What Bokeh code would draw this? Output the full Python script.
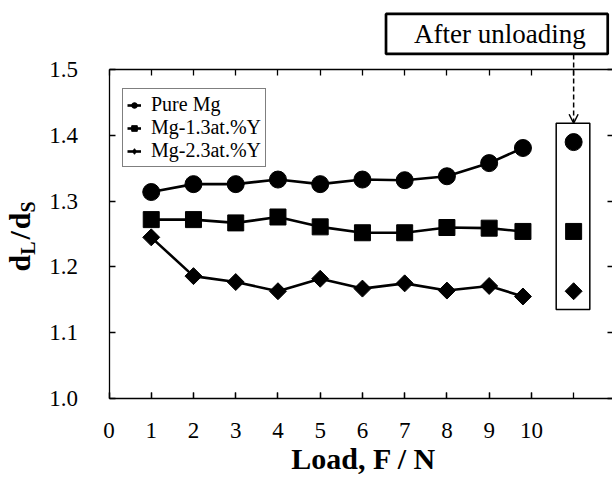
import math
from bokeh.plotting import figure
from bokeh.models import (Label, Arrow, OpenHead, Legend, LegendItem, LinearAxis,
                          FixedTicker, NumeralTickFormatter, Range1d)
from bokeh.embed import file_html
from bokeh.resources import INLINE

# ---- data ----
load = [1, 2, 3, 4, 5, 6, 7, 8, 9, 9.8]
pure_mg = [1.314, 1.326, 1.326, 1.333, 1.326, 1.333, 1.332, 1.338, 1.358, 1.381]
mg_13y = [1.272, 1.272, 1.267, 1.276, 1.261, 1.252, 1.252, 1.260, 1.259, 1.254]
mg_23y = [1.245, 1.186, 1.177, 1.163, 1.182, 1.167, 1.175, 1.164, 1.171, 1.155]
unload_x = [11]
unload_pure = [1.390]
unload_13y = [1.254]
unload_23y = [1.163]
x_tick_labels = list(range(0, 11))       # labelled ticks 0..10
x_tick_marks = list(range(0, 13))        # tick marks 0..12
y_ticks = [1.0, 1.1, 1.2, 1.3, 1.4, 1.5]
series_names = ["Pure Mg", "Mg-1.3at.%Y", "Mg-2.3at.%Y"]

FONT = "Liberation Serif"

# frame covers the whole canvas; axes sit at fixed data locations
p = figure(width=612, height=477, x_range=Range1d(-2.5687, 11.920),
           y_range=Range1d(0.8795, 1.6055), min_border=0,
           output_backend="svg", toolbar_location=None)
p.grid.visible = False
p.outline_line_color = None
p.background_fill_color = "white"
p.border_fill_color = "white"


def style_axis(ax):
    ax.axis_line_color = "black"
    ax.axis_line_width = 1.3
    ax.major_tick_line_color = "black"
    ax.major_tick_line_width = 1.3
    ax.major_tick_in = 6
    ax.major_tick_out = 0
    ax.minor_tick_line_color = "black"
    ax.minor_tick_line_width = 1.3
    ax.minor_tick_in = 6
    ax.minor_tick_out = 0
    ax.major_label_text_font = FONT
    ax.major_label_text_font_size = "23px"
    ax.major_label_text_color = "black"


xa = p.xaxis[0]
style_axis(xa)
xa.fixed_location = 1.0
xa.bounds = (0, 12)
xa.ticker = FixedTicker(ticks=x_tick_labels, minor_ticks=x_tick_marks)
xa.major_label_standoff = 25

ya = p.yaxis[0]
style_axis(ya)
ya.fixed_location = 0
ya.bounds = (1.0, 1.5)
ya.ticker = FixedTicker(ticks=y_ticks)
ya.formatter = NumeralTickFormatter(format="0.0")
ya.major_label_standoff = 31

top = LinearAxis()
style_axis(top)
top.fixed_location = 1.5
top.bounds = (0, 12)
top.ticker = FixedTicker(ticks=[], minor_ticks=x_tick_marks)
p.add_layout(top, "above")

right = LinearAxis()
style_axis(right)
right.fixed_location = 12
right.bounds = (1.0, 1.5)
right.ticker = FixedTicker(ticks=[], minor_ticks=y_ticks)
right.minor_tick_in = 8
p.add_layout(right, "right")

# ---- series ----
LW = 2.6
l1 = p.line(load, pure_mg, line_color="black", line_width=LW)
s1 = p.scatter(load, pure_mg, marker="circle", size=17, fill_color="black", line_color="black")
l2 = p.line(load, mg_13y, line_color="black", line_width=LW)
s2 = p.scatter(load, mg_13y, marker="square", size=16, fill_color="black", line_color="black")
l3 = p.line(load, mg_23y, line_color="black", line_width=LW)
# diamond key glyph (hidden beneath the rotated squares, used for the legend)
s3_key = p.scatter(load, mg_23y, marker="diamond", size=12, fill_color="black", line_color="black")
s3 = p.scatter(load, mg_23y, marker="square", angle=math.pi / 4, size=12,
               fill_color="black", line_color="black")

# after-unloading points
p.scatter(unload_x, unload_pure, marker="circle", size=17, fill_color="black", line_color="black")
p.scatter(unload_x, unload_13y, marker="square", size=16, fill_color="black", line_color="black")
p.scatter(unload_x, unload_23y, marker="square", angle=math.pi / 4, size=12,
          fill_color="black", line_color="black")
p.quad(left=[10.587], right=[11.383], bottom=[1.1352], top=[1.4187],
       fill_color=None, line_color="black", line_width=1.5)

legend = Legend(items=[LegendItem(label=series_names[0], renderers=[l1, s1]),
                       LegendItem(label=series_names[1], renderers=[l2, s2]),
                       LegendItem(label=series_names[2], renderers=[l3, s3_key])],
                location=(122, 310), border_line_color="black", border_line_width=1.5,
                padding=4, spacing=-1, label_height=20, glyph_height=20, glyph_width=14,
                label_standoff=10, margin=0, label_text_font=FONT,
                label_text_font_size="20px", label_text_color="black",
                background_fill_color="white", background_fill_alpha=1.0)
p.add_layout(legend)

# ---- annotations ----
p.add_layout(Label(x=6.558, y=1.5546, text="After unloading", text_align="left",
                   text_baseline="middle", text_font=FONT, text_font_size="27px",
                   text_color="black",
                   border_line_color="black", border_line_width=2.7,
                   background_fill_color="white",
                   padding=dict(left=28, right=22, top=5, bottom=5)))
p.add_layout(Arrow(end=OpenHead(size=9, line_width=1.5, line_color="black"),
                   x_start=11, y_start=1.5233, x_end=11, y_end=1.4187,
                   line_dash="5 3", line_width=1.5, line_color="black"))

# x axis title
p.add_layout(Label(x=6.032, y=0.9081, text="Load, F / N", text_align="center",
                   text_baseline="middle", text_font=FONT, text_font_size="30px",
                   text_font_style="bold", text_color="black"))

# y axis title d_L / d_S (composed, rotated)
XM, XS = -2.12, -1.925
for txt, xx, yy, fs in [("d", XM, 1.1930, "30px"), ("L", XS, 1.2184, "20px"),
                        ("/", XM, 1.2417, "30px"), ("d", XM, 1.2574, "30px"),
                        ("S", XS, 1.2828, "20px")]:
    p.add_layout(Label(x=xx, y=yy, text=txt, angle=math.pi / 2, text_align="left",
                       text_baseline="middle", text_font=FONT, text_font_size=fs,
                       text_font_style="bold", text_color="black"))

open("out.html", "w").write(file_html(p, INLINE))
